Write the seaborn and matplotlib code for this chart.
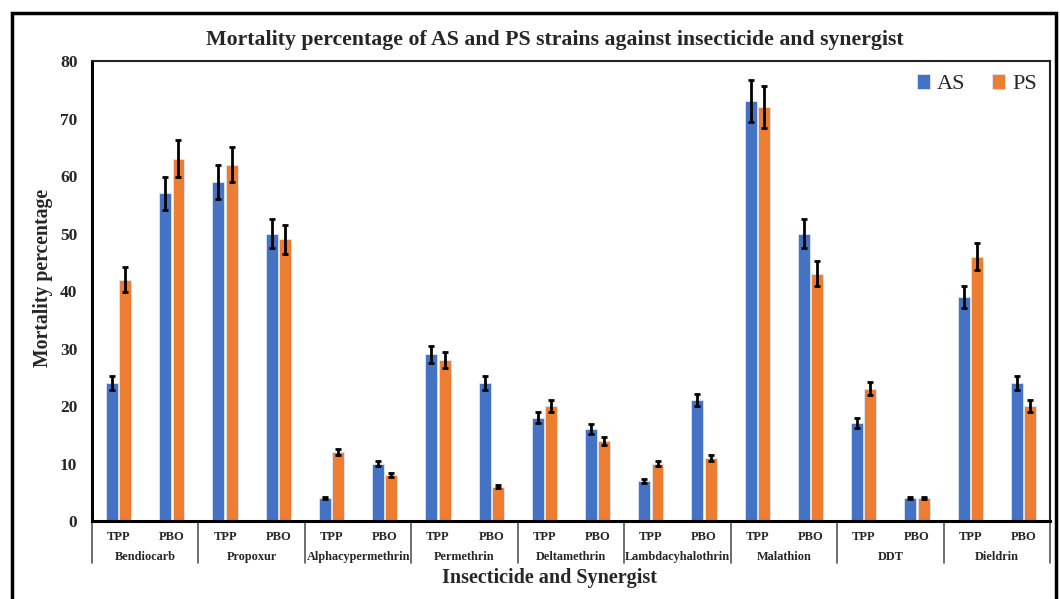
import pandas as pd
import seaborn as sns
import matplotlib.pyplot as plt
from matplotlib.patches import Rectangle
from matplotlib.transforms import blended_transform_factory

# values
insecticides = ['Bendiocarb', 'Propoxur', 'Alphacypermethrin', 'Permethrin', 'Deltamethrin',
                'Lambdacyhalothrin', 'Malathion', 'DDT', 'Dieldrin']
synergists = ['TPP', 'PBO']
as_values = [24, 57, 59, 50, 4, 10, 29, 24, 18, 16, 7, 21, 73, 50, 17, 4, 39, 24]
ps_values = [42, 63, 62, 49, 12, 8, 28, 6, 20, 14, 10, 11, 72, 43, 23, 4, 46, 20]
as_err = [1.2, 2.9, 3.0, 2.5, 0.2, 0.5, 1.5, 1.2, 0.9, 0.8, 0.35, 1.05, 3.65, 2.5, 0.85, 0.2, 1.95, 1.2]
ps_err = [2.1, 3.2, 3.1, 2.5, 0.6, 0.4, 1.4, 0.3, 1.0, 0.7, 0.5, 0.55, 3.6, 2.2, 1.15, 0.2, 2.3, 1.0]

cats = [f'{ins}|{syn}' for ins in insecticides for syn in synergists]
df = pd.DataFrame({
    'cat': cats * 2,
    'strain': ['AS'] * len(cats) + ['PS'] * len(cats),
    'value': as_values + ps_values,
})
errs = {'AS': as_err, 'PS': ps_err}

sns.set_style('white')
plt.rcParams['font.family'] = ['Liberation Serif', 'DejaVu Serif']

fig = plt.figure(figsize=(10.6, 5.99), dpi=100)
ax = fig.add_axes([0.0868, 0.1302, 0.9038, 0.7678])

sns.barplot(data=df, x='cat', y='value', hue='strain', order=cats, hue_order=['AS', 'PS'],
            palette=['#4472C4', '#ED7D31'], saturation=1, width=0.5, gap=0.1,
            edgecolor='#dfe6f5', linewidth=0.6, ax=ax)

# error bars on each bar
for cont, strain in zip(ax.containers, ['AS', 'PS']):
    xs = [b.get_x() + b.get_width() / 2 for b in cont]
    ys = [b.get_height() for b in cont]
    ax.errorbar(xs, ys, yerr=errs[strain], fmt='none', ecolor='black',
                elinewidth=2, capsize=2.5, capthick=2, zorder=5)

ax.set_xlim(-0.5, len(cats) - 0.5)
ax.set_ylim(0, 80)
ax.set_yticks(range(0, 81, 10))
ax.tick_params(axis='y', length=0, pad=10.5, labelsize=12.5)
for t in ax.get_yticklabels():
    t.set_fontweight('bold')

ax.set_xticks(range(len(cats)))
ax.set_xticklabels([c.split('|')[1] for c in cats], fontsize=9, fontweight='bold')
ax.tick_params(axis='x', length=0, pad=7)
ax.set_xlabel('')
ax.set_ylabel('Mortality percentage', fontsize=14.2, fontweight='bold')
ax.yaxis.set_label_coords(-0.041, 0.528)

for side in ['left', 'bottom']:
    ax.spines[side].set_linewidth(2.2)
    ax.spines[side].set_color('black')
for side in ['top', 'right']:
    ax.spines[side].set_linewidth(1.5)
    ax.spines[side].set_color('#222222')

# group labels and separators below the axis
trans = blended_transform_factory(ax.transData, ax.transAxes)
for i, name in enumerate(insecticides):
    ax.text(2 * i + 0.5, -0.078, name, transform=trans, ha='center', va='center',
            fontsize=8.8, fontweight='bold')
for k in range(len(insecticides) + 1):
    xb = 2 * k - 0.5
    ax.plot([xb, xb], [0, -0.092], transform=trans, color='#555555', lw=1.2, clip_on=False)

fig.text(0.518, 0.035, 'Insecticide and Synergist', ha='center', va='center',
         fontsize=14.5, fontweight='bold')
fig.text(0.523, 0.933, 'Mortality percentage of AS and PS strains against insecticide and synergist',
         ha='center', va='center', fontsize=15.7, fontweight='bold')

leg = ax.legend(loc='upper right', ncol=2, frameon=False, fontsize=16,
                handlelength=0.6, handleheight=0.6, handletextpad=0.3, columnspacing=1.2,
                borderaxespad=0.2)

# outer frame around the chart
fig.patches.append(Rectangle((0.011, -0.02), 0.985, 0.999, transform=fig.transFigure,
                             fill=False, edgecolor='black', linewidth=2.5))

fig.savefig('out.png', dpi=100)
